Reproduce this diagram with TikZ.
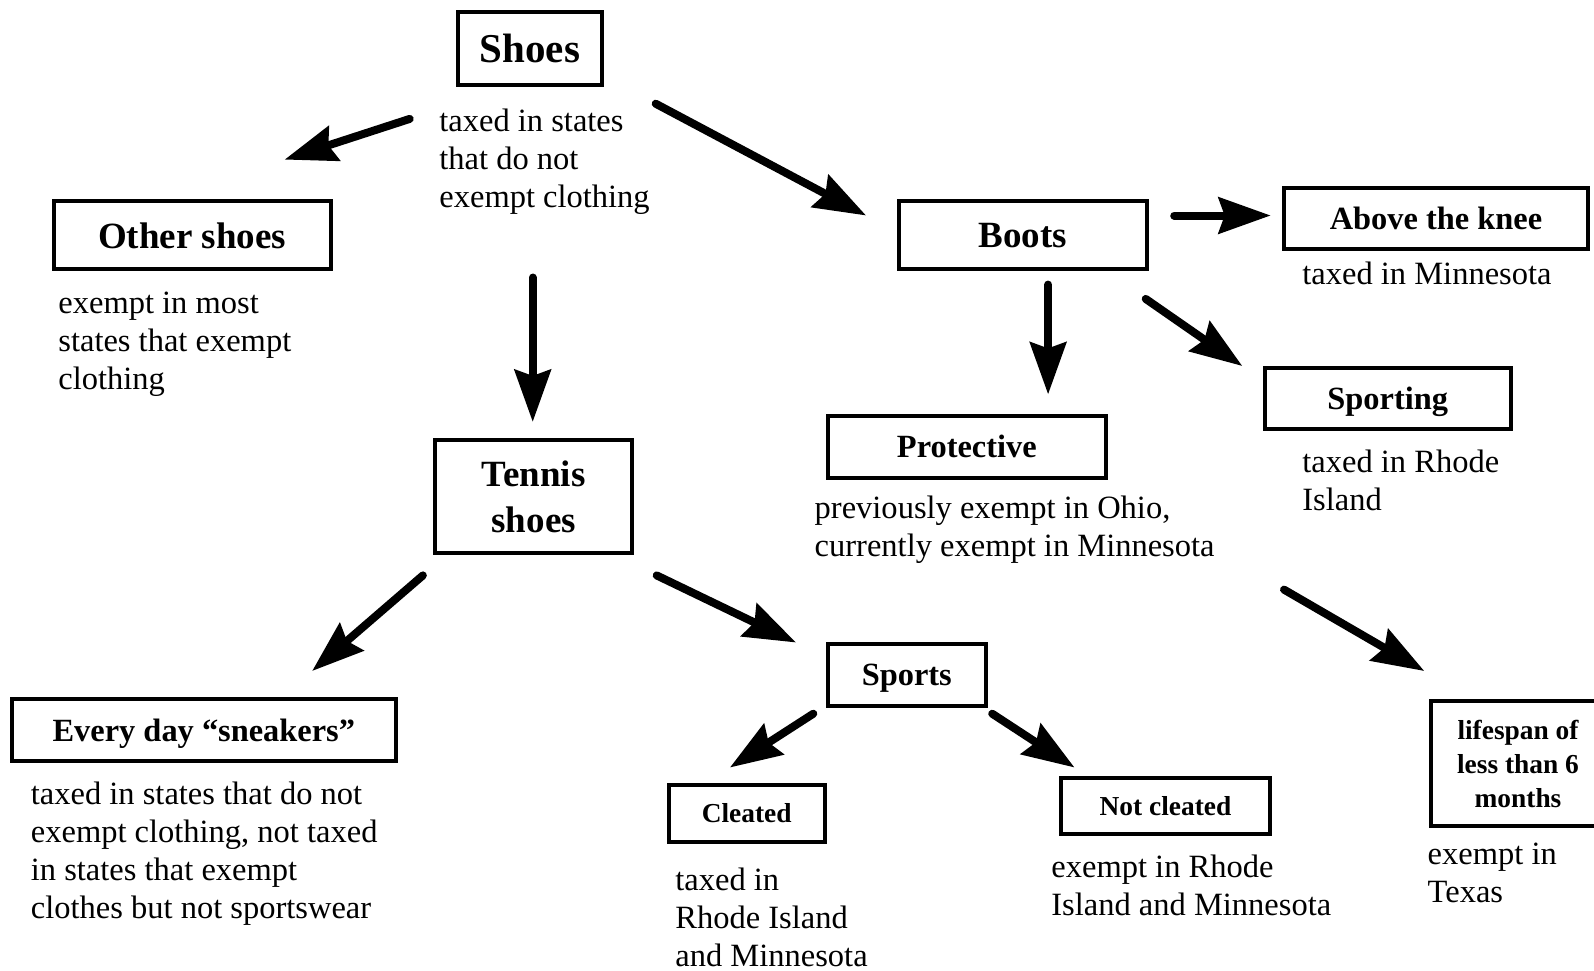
\documentclass[tikz,border=0pt]{standalone}
\usepackage{fontspec}
\setmainfont{Liberation Serif}
\usetikzlibrary{arrows.meta}
\tikzset{
  box/.style={draw, line width=2pt, rectangle, inner sep=0pt, align=center},
  bigf/.style={font=\fontsize{18.5pt}{23pt}\selectfont\bfseries},
  midf/.style={font=\fontsize{16.2pt}{19pt}\selectfont\bfseries},
  smallf/.style={font=\fontsize{13.7pt}{17pt}\selectfont\bfseries},
  nodepth/.style={text depth=0pt},
  desc/.style={anchor=north west, inner sep=0pt, align=left, font=\fontsize{16.25pt}{19pt}\selectfont},
  arr/.style={line width=4pt, line cap=round, -{Stealth[length=26pt,width=18pt,inset=3pt]}},
}
\begin{document}
\begin{tikzpicture}[x=0.5pt,y=-0.5pt]
\useasboundingbox (0,0) rectangle (1594,970);
% boxes
\node[box, font=\fontsize{20.5pt}{24pt}\selectfont\bfseries, minimum width=71.7pt, minimum height=36.6pt] (shoes) at (530,48.8) {Shoes};
\node[box, bigf, minimum width=138.3pt, minimum height=34pt] (other) at (192.2,235.4) {Other shoes};
\node[box, bigf, minimum width=98.6pt, minimum height=56.4pt] (tennis) at (533.7,496.6) {Tennis\\shoes};
\node[box, bigf, minimum width=124pt, minimum height=34pt] (boots) at (1022.7,235.4) {Boots};
\node[box, midf, minimum width=152pt, minimum height=30.5pt] (above) at (1436,218.5) {Above the knee};
\node[box, midf, nodepth, minimum width=123pt, minimum height=30.5pt] (sporting) at (1387.7,398.5) {Sporting};
\node[box, midf, minimum width=139.3pt, minimum height=31pt] (protective) at (966.8,446.8) {Protective};
\node[box, midf, nodepth, minimum width=191.7pt, minimum height=31pt] (every) at (203.8,730.4) {Every day “sneakers”};
\node[box, midf, nodepth, minimum width=79.3pt, minimum height=31pt] (sports) at (906.8,674.5) {Sports};
\node[box, smallf, minimum width=77.8pt, minimum height=28.5pt] (cleated) at (746.7,813.3) {Cleated};
\node[box, smallf, minimum width=104.2pt, minimum height=28pt] (notcleated) at (1165.5,805.7) {Not cleated};
\node[box, smallf, minimum width=87pt, minimum height=62.5pt] (lifespan) at (1518,763.5) {lifespan of\\less than 6\\months};
% descriptions
\node[desc] (shoesd) at (439,109) {taxed in states\\that do not\\exempt clothing};
\node[desc] (otherd) at (58,292) {exempt in most\\states that exempt\\clothing};
\node[desc] (aboved) at (1302,261.5) {taxed in Minnesota};
\node[desc] (sportingd) at (1302,449.5) {taxed in Rhode\\Island};
\node[desc] (protectived) at (814.3,495.3) {previously exempt in Ohio,\\currently exempt in Minnesota};
\node[desc] (everyd) at (30.5,782) {taxed in states that do not\\exempt clothing, not taxed\\in states that exempt\\clothes but not sportswear};
\node[desc] (cleatedd) at (675,868) {taxed in\\Rhode Island\\and Minnesota};
\node[desc] (notcleatedd) at (1051,855) {exempt in Rhode\\Island and Minnesota};
\node[desc] (lifespand) at (1427.3,843) {exempt in\\Texas};
% arrow end points
\coordinate (a1s) at (409.7,118.9); \coordinate (a1e) at (284.6,159.6);
\coordinate (a2s) at (532.7,277.5); \coordinate (a2e) at (532.7,421.9);
\coordinate (a3s) at (655.7,103.7); \coordinate (a3e) at (866.1,215.5);
\coordinate (a4s) at (422.9,575.4); \coordinate (a4e) at (312.1,671);
\coordinate (a5s) at (656.7,575.4); \coordinate (a5e) at (796,642.5);
\coordinate (a6s) at (1174.2,215.5); \coordinate (a6e) at (1270.7,215.5);
\coordinate (a7s) at (1048.1,284.6); \coordinate (a7e) at (1048.1,394.4);
\coordinate (a8s) at (1145.7,298.9); \coordinate (a8e) at (1242.3,366);
\coordinate (a9s) at (1284,589.6); \coordinate (a9e) at (1424.3,671);
\coordinate (a10s) at (813.3,713.7); \coordinate (a10e) at (729.9,767.5);
\coordinate (a11s) at (992.2,713.7); \coordinate (a11e) at (1074.5,767.5);
% arrows
\draw[arr] (a1s) -- (a1e);
\draw[arr] (a2s) -- (a2e);
\draw[arr] (a3s) -- (a3e);
\draw[arr] (a4s) -- (a4e);
\draw[arr] (a5s) -- (a5e);
\draw[arr] (a6s) -- (a6e);
\draw[arr] (a7s) -- (a7e);
\draw[arr] (a8s) -- (a8e);
\draw[arr] (a9s) -- (a9e);
\draw[arr] (a10s) -- (a10e);
\draw[arr] (a11s) -- (a11e);
\end{tikzpicture}
\end{document}
